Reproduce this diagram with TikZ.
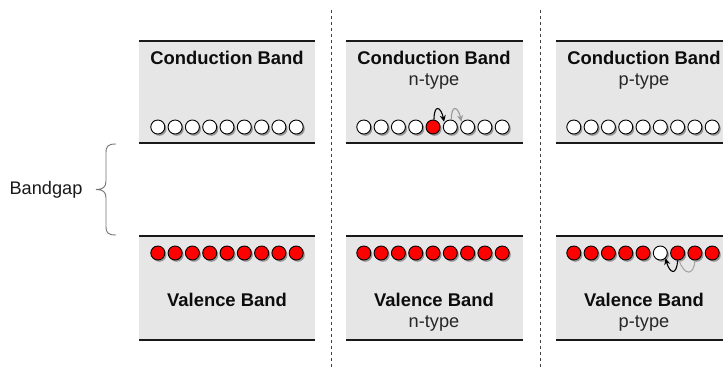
\documentclass[tikz,border=0pt]{standalone}
\usepackage{fontspec}
\setmainfont{Liberation Sans}
\usetikzlibrary{shadows,arrows.meta}
\definecolor{bandgray}{HTML}{E6E6E6}
\begin{document}
\begin{tikzpicture}[x=1pt,y=-1pt,
  bandline/.style={line width=2pt, black!90},
  ecirc/.style={circle, draw=black, line width=0.9pt, minimum size=14pt, inner sep=0pt,
     drop shadow={shadow xshift=1.6pt, shadow yshift=-1.8pt, fill=black, opacity=0.35}},
  elec/.style={ecirc, fill=red},
  hole/.style={ecirc, fill=white},
  bandtitle/.style={font=\bfseries\fontsize{18.4}{20}\selectfont, text=black!95, inner sep=0pt},
  bandsub/.style={font=\fontsize{18.2}{20}\selectfont, text=black!85, inner sep=0pt},
  divider/.style={dash pattern=on 3pt off 3pt, black!75, line width=0.8pt},
  hoparrow/.style={-{Stealth[length=6.5pt,width=6pt]}, line width=1.1pt}
]
\useasboundingbox (0,0) rectangle (723,367);

% ---- band boxes ----
\foreach \l/\r in {139/315, 346/523, 556/733}{
  \fill[bandgray] (\l,41) rectangle (\r,143);
  \draw[bandline] (\l,41) -- (\r,41);
  \draw[bandline] (\l,143) -- (\r,143);
  \fill[bandgray] (\l,236) rectangle (\r,340);
  \draw[bandline] (\l,236) -- (\r,236);
  \draw[bandline] (\l,340) -- (\r,340);
}

% ---- dividers ----
\draw[divider] (331,10) -- (331,367);
\draw[divider] (540,10) -- (540,367);

% ---- texts ----
\node[bandtitle] (ct1) at (227,58) {Conduction Band};
\node[bandtitle] (ct2) at (434,58) {Conduction Band};
\node[bandsub]   (cs2) at (434,82) {n-type};
\node[bandtitle] (ct3) at (644,58) {Conduction Band};
\node[bandsub]   (cs3) at (644,82) {p-type};
\node[bandtitle] (vt1) at (227,300) {Valence Band};
\node[bandtitle] (vt2) at (434,300) {Valence Band};
\node[bandsub]   (vs2) at (434,324) {n-type};
\node[bandtitle] (vt3) at (644,300) {Valence Band};
\node[bandsub]   (vs3) at (644,324) {p-type};

% ---- conduction band circles ----
\foreach \i in {1,...,9}{
  \node[hole] (ca\i) at ({227+(\i-5)*17.3},127) {};
}
\foreach \i in {1,2,3,4,6,7,8,9}{
  \node[hole] (cb\i) at ({433+(\i-5)*17.3},127) {};
}
\node[elec] (cb5) at (433,127) {};
\foreach \i in {1,...,9}{
  \node[hole] (cc\i) at ({643+(\i-5)*17.3},127) {};
}

% ---- valence band circles ----
\foreach \i in {1,...,9}{
  \node[elec] (va\i) at ({227+(\i-5)*17.3},253) {};
  \node[elec] (vb\i) at ({433+(\i-5)*17.3},253) {};
}
\foreach \i in {1,2,3,4,5,7,8,9}{
  \node[elec] (vc\i) at ({643+(\i-5)*17.3},253) {};
}
\node[hole] (vc6) at ({643+17.3},253) {};

% ---- hop arrows ----
\draw[hoparrow, black!40] ([xshift=1pt]cb6.north) .. controls +(0,-16) and +(-3,-15) .. ([xshift=-1pt]cb7.north west);
\draw[hoparrow, black] ([xshift=1pt]cb5.north) .. controls +(0,-16) and +(-3,-15) .. ([xshift=-1pt]cb6.north west);
\draw[line width=1.1pt, black!35] (vc8.south) .. controls +(-1,16) and +(5,15) .. ([xshift=1.5pt]vc7.south);
\draw[hoparrow, black] (vc7.south) .. controls +(-1,16) and +(4,15) .. (vc6.south east);

% ---- bandgap brace ----
\coordinate (btop) at (116,144);
\coordinate (bbot) at (116,235);
\coordinate (btip) at (96,189.5);
\draw[black!55, line width=0.9pt]
  (btop) .. controls (108,144) and (106,146) .. (106,153)
  -- (106,181) .. controls (106,187) and (103,189.5) .. (btip)
  (btip) .. controls (103,189.5) and (106,192) .. (106,198)
  -- (106,226) .. controls (106,233) and (108,235) .. (bbot);
\node[bandsub, text=black!90] (bg) at (46,190) {Bandgap};
\end{tikzpicture}
\end{document}
